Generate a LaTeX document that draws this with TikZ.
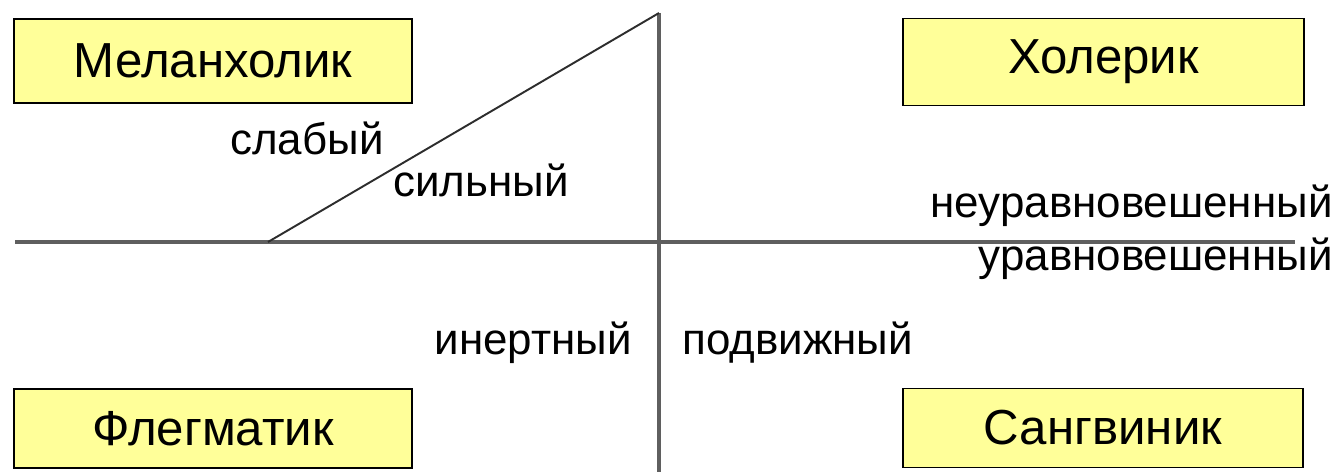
\documentclass[tikz,border=0pt]{standalone}
\usepackage{fontspec}
\setmainfont{Liberation Sans}
\usepackage{tikz}
\definecolor{boxfill}{RGB}{255,255,153}
\definecolor{axisgray}{RGB}{95,95,95}
\definecolor{slopegray}{RGB}{45,45,45}
\newcommand{\lblfont}{\fontsize{25}{30}\selectfont}
\newcommand{\typefont}{\fontsize{28}{33}\selectfont}

\begin{document}
\begin{tikzpicture}[x=0.02cm, y=-0.02cm, every node/.style={font=\lblfont, inner sep=0pt}]
  \tikzstyle{typebox}=[draw, line width=1.1pt, fill=boxfill, minimum width=7.96cm, font=\typefont]
  \tikzstyle{axis}=[draw=axisgray, line width=2pt]
  \useasboundingbox (0,0) rectangle (1340,472);
  % temperament boxes
  \node[typebox, minimum height=1.68cm] (mel) at (213,61) {Меланхолик};
  \node[typebox, minimum height=1.74cm, minimum width=8.02cm] (hol) at (1103.5,62) {Холерик};
  \node[typebox, minimum height=1.58cm] (fle) at (213,428.5) {Флегматик};
  \node[typebox, minimum height=1.58cm, minimum width=8.0cm] (san) at (1103,428) {Сангвиник};
  % axes
  \coordinate (top) at (659,13);
  \coordinate (bot) at (659,472);
  \coordinate (west) at (15,242);
  \coordinate (east) at (1295,242);
  \coordinate (foot) at (268,242);
  \draw[axis] (west) -- (east);
  \draw[axis] (top) -- (bot);
  \draw[draw=slopegray, line width=1.1pt] (foot) -- (top);
  % labels
  \node[anchor=base west] (weak) at (230,155) {слабый};
  \node[anchor=base west] (strong) at (393,197) {сильный};
  \node[anchor=base east] (uneq) at (1333,218) {неуравновешенный};
  \node[anchor=base east] (eq) at (1333,271) {уравновешенный};
  \node[anchor=base east] (inert) at (632,355) {инертный};
  \node[anchor=base west] (mobile) at (682,355) {подвижный};
\end{tikzpicture}
\end{document}
